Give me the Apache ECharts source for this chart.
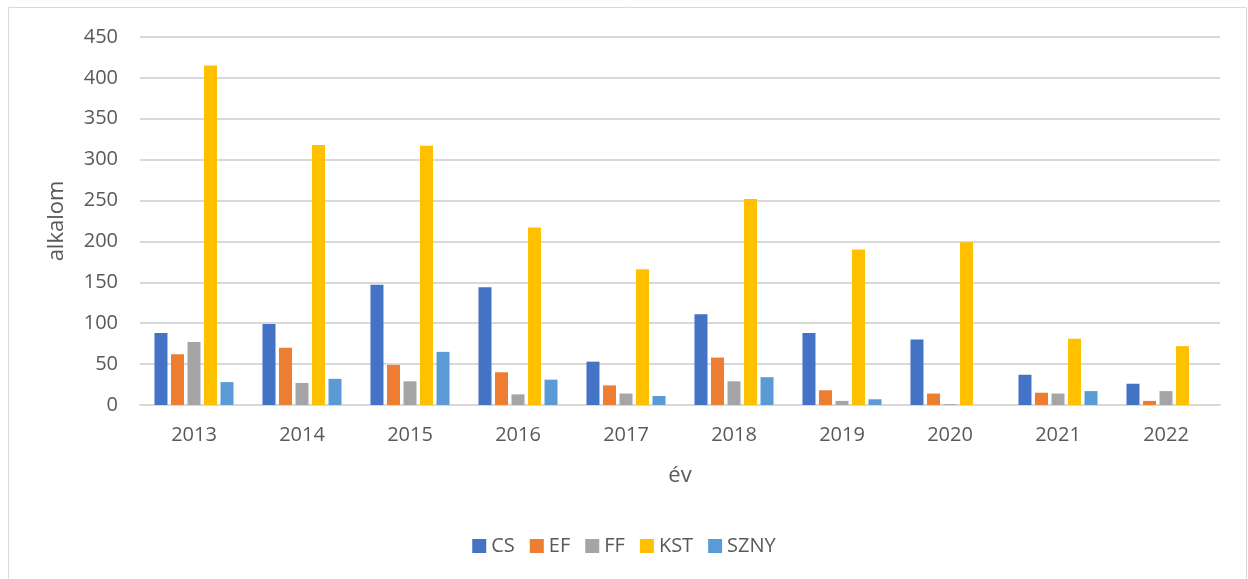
<!DOCTYPE html>
<html><head><meta charset="utf-8">
<script src="https://cdn.jsdelivr.net/npm/echarts@6/dist/echarts.min.js"></script>
<style>html,body{margin:0;padding:0;background:#fff}#c{width:1248px;height:579px}</style>
</head><body><div id="c"></div>
<script>
const categories = ['2013','2014','2015','2016','2017','2018','2019','2020','2021','2022'];
const CS   = [88, 99, 147, 144, 53, 111, 88, 80, 37, 26];
const EF   = [62, 70, 49, 40, 24, 58, 18, 14, 15, 5];
const FF   = [77, 27, 29, 13, 14, 29, 5, 1, 14, 17];
const KST  = [415, 318, 317, 217, 166, 252, 190, 199, 81, 72];
const SZNY = [28, 32, 65, 31, 11, 34, 7, 0, 17, 0];
const yTicks = [0, 450, 50];

const font = '"Open Sans", "Noto Sans", sans-serif';
const txt = '#595959';
const names = ['CS','EF','FF','KST','SZNY'];
const colors = ['#4472C4','#ED7D31','#A5A5A5','#FFC000','#5B9BD5'];
const data = [CS, EF, FF, KST, SZNY];

const chart = echarts.init(document.getElementById('c'), null, {renderer:'canvas'});
chart.setOption({
  animation: false,
  color: colors,
  textStyle: {fontFamily: font, color: txt},
  graphic: [{type:'rect', shape:{x:8.5, y:7.5, width:1238, height:600}, style:{fill:'none', stroke:'#D9D9D9', lineWidth:1}, silent:true}],
  grid: {left: 140, right: 28, top: 37, bottom: 174, containLabel: false},
  legend: {
    data: names, bottom: 18, left: 'center', itemWidth: 14, itemHeight: 14, itemGap: 15,
    icon: 'rect',
    textStyle: {fontFamily: font, fontSize: 20, color: txt}
  },
  xAxis: {
    type: 'category', data: categories,
    name: 'év', nameLocation: 'middle', nameGap: 60,
    nameTextStyle: {fontFamily: font, fontSize: 22, color: txt},
    axisLine: {lineStyle: {color: '#D9D9D9', width: 2}},
    axisTick: {show: false},
    axisLabel: {fontFamily: font, fontSize: 20, color: txt, margin: 20}
  },
  yAxis: {
    type: 'value', min: yTicks[0], max: yTicks[1], interval: yTicks[2],
    name: 'alkalom', nameLocation: 'middle', nameGap: 72, nameRotate: 90,
    nameTextStyle: {fontFamily: font, fontSize: 22, color: txt},
    axisLine: {show: false}, axisTick: {show: false},
    axisLabel: {fontFamily: font, fontSize: 20, color: txt, margin: 22},
    splitLine: {lineStyle: {color: '#D9D9D9', width: 2}}
  },
  series: names.map((n, i) => ({
    name: n, type: 'bar', data: data[i],
    barWidth: 13, barGap: '27%',
    itemStyle: {color: colors[i]}
  }))
});
</script></body></html>
